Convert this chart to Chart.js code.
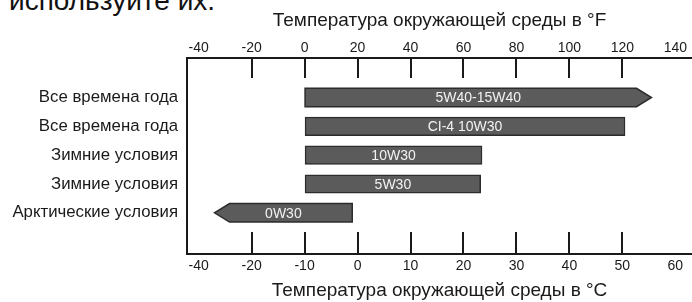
<!DOCTYPE html>
<html>
<head>
<meta charset="utf-8">
<style>
  html, body { margin: 0; padding: 0; background: #fff; overflow: hidden; }
  #wrap { position: relative; width: 692px; height: 302px; overflow: hidden; }
  #lead { position: absolute; left: 9px; top: -12.5px; font: 28px "Liberation Sans", Arial, sans-serif; line-height: 26px; color: #111; white-space: nowrap; }
  #box { position: absolute; left: 0; top: 0; width: 692px; height: 302px; }
</style>
<script src="https://cdn.jsdelivr.net/npm/chart.js@4/dist/chart.umd.min.js"></script>
</head>
<body>
<div id="wrap">
  <div id="lead">используйте их.</div>
  <div id="box"><canvas id="chart"></canvas></div>
</div>
<script>
// rows, top to bottom
const categories = ['Все времена года', 'Все времена года', 'Зимние условия', 'Зимние условия', 'Арктические условия'];
const grades = ['5W40-15W40', 'CI-4 10W30', '10W30', '5W30', '0W30'];
// range of each oil, read in °F off the top scale
const startF = [0, 0, 0, 0, -34];
const endF = [131, 121, 67, 66.5, 18];
const arrowDir = ['right', '', '', '', 'left'];

// both scales share the same tick positions in the picture
const topTicks = [-40, -20, 0, 20, 40, 60, 80, 100, 120, 140];
const bottomTicks = [-40, -20, -10, 0, 10, 20, 30, 40, 50, 60];
const markTicks = topTicks.slice(1, -1);

const FONT = '"Liberation Sans", Arial, sans-serif';
const INK = '#1a1a1a';
const BAR = '#5b5b5b';
const BAR_EDGE = '#2c2c2c';

const rows = categories.map((c, i) => ({ x: [startF[i], endF[i]], y: i }));

// inner tick marks + arrow ends + bar labels
const extras = {
    id: 'extras',
    afterDatasetsDraw(chart) {
        const ctx = chart.ctx;
        const area = chart.chartArea;
        const xs = chart.scales.x;
        ctx.save();

        ctx.strokeStyle = INK;
        ctx.lineWidth = 2;
        markTicks.forEach(v => {
            const px = Math.round(xs.getPixelForValue(v));
            ctx.beginPath();
            ctx.moveTo(px, area.top);
            ctx.lineTo(px, area.top + 20);
            ctx.moveTo(px, area.bottom - 22);
            ctx.lineTo(px, area.bottom);
            ctx.stroke();
        });

        const meta = chart.getDatasetMeta(0);
        meta.data.forEach((el, i) => {
            const p = el.getProps(['x', 'y', 'base', 'height'], true);
            const left = Math.min(p.x, p.base), right = Math.max(p.x, p.base);
            const y = p.y, top = y - p.height / 2, bot = y + p.height / 2;
            const tip = 15;
            if (arrowDir[i]) {
                ctx.beginPath();
                if (arrowDir[i] === 'right') {
                    ctx.moveTo(left, top);
                    ctx.lineTo(right - tip, top);
                    ctx.lineTo(right, y);
                    ctx.lineTo(right - tip, bot);
                    ctx.lineTo(left, bot);
                } else {
                    ctx.moveTo(right, top);
                    ctx.lineTo(left + tip, top);
                    ctx.lineTo(left, y);
                    ctx.lineTo(left + tip, bot);
                    ctx.lineTo(right, bot);
                }
                ctx.closePath();
                ctx.fillStyle = BAR;
                ctx.fill();
                ctx.lineWidth = 1.5;
                ctx.strokeStyle = BAR_EDGE;
                ctx.stroke();
            }
            ctx.fillStyle = '#f2f2f2';
            ctx.font = '14px ' + FONT;
            ctx.textAlign = 'center';
            ctx.textBaseline = 'middle';
            ctx.fillText(grades[i], (left + right) / 2, y + 1);
        });
        ctx.restore();
    }
};

new Chart(document.getElementById('chart'), {
    type: 'bar',
    data: {
        datasets: [{
            data: rows,
            backgroundColor: arrowDir.map(a => a ? 'rgba(0,0,0,0)' : BAR),
            borderColor: arrowDir.map(a => a ? 'rgba(0,0,0,0)' : BAR_EDGE),
            borderWidth: 1.5,
            borderSkipped: false,
            barThickness: 18.5
        }]
    },
    options: {
        indexAxis: 'y',
        responsive: true,
        maintainAspectRatio: false,
        animation: false,
        layout: { padding: 0 },
        plugins: { legend: { display: false }, tooltip: { enabled: false } },
        scales: {
            x: {
                type: 'linear',
                position: 'top',
                min: -44.4,
                max: 146.3,
                afterBuildTicks: s => { s.ticks = topTicks.map(v => ({ value: v })); },
                afterFit: s => { s.height = 58; },
                grid: { display: true, drawOnChartArea: false, drawTicks: false },
                border: { display: true, color: INK, width: 2 },
                ticks: { autoSkip: false, maxRotation: 0, padding: 1, color: INK, font: { family: FONT, size: 14 } },
                title: { display: true, text: 'Температура окружающей среды в °F', color: INK, font: { family: FONT, size: 19 }, padding: { top: 9, bottom: 0 } }
            },
            x2: {
                type: 'linear',
                position: 'bottom',
                min: -44.4,
                max: 146.3,
                afterBuildTicks: s => { s.ticks = topTicks.map(v => ({ value: v })); },
                afterFit: s => { s.height = 48; },
                grid: { display: true, drawOnChartArea: false, drawTicks: false },
                border: { display: true, color: INK, width: 2 },
                ticks: { autoSkip: false, maxRotation: 0, padding: 4, color: INK, font: { family: FONT, size: 14 },
                    callback: (v, i) => bottomTicks[i] },
                title: { display: true, text: 'Температура окружающей среды в °C', color: INK, font: { family: FONT, size: 19 }, padding: { top: 4, bottom: 0 } }
            },
            y: {
                type: 'linear',
                reverse: true,
                offset: false,
                min: -1.37,
                max: 5.43,
                afterBuildTicks: s => { s.ticks = categories.map((c, i) => ({ value: i })); },
                afterFit: s => { s.width = 187; },
                grid: { display: true, offset: false, drawOnChartArea: false, drawTicks: false },
                border: { display: true, color: INK, width: 2 },
                ticks: { autoSkip: false, padding: 9, color: INK, font: { family: FONT, size: 16.8 },
                    callback: v => categories[v] }
            }
        }
    },
    plugins: [extras]
});
</script>
</body>
</html>
